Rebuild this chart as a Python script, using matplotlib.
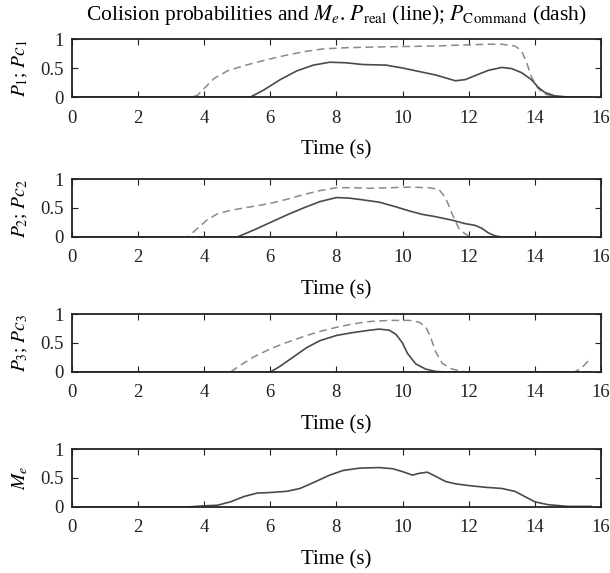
import matplotlib
matplotlib.use("Agg")
import matplotlib.pyplot as plt

t_p1 = [0, 5.4, 5.8, 6.3, 6.8, 7.3, 7.8, 8.3, 8.8, 9.5, 10.0, 10.5, 11.0, 11.3, 11.6, 11.9,
        12.2, 12.6, 13.0, 13.3, 13.6, 13.9, 14.1, 14.3, 14.6, 15.0, 15.7]
p1 = [0, 0, 0.12, 0.3, 0.45, 0.55, 0.6, 0.59, 0.56, 0.55, 0.5, 0.44, 0.38, 0.33, 0.28, 0.3,
      0.37, 0.46, 0.51, 0.49, 0.42, 0.3, 0.17, 0.08, 0.02, 0, 0]
t_pc1 = [0, 3.6, 3.8, 4.0, 4.3, 4.7, 5.2, 5.8, 6.4, 7.0, 7.6, 8.3, 9.0, 10.0, 11.0, 12.0,
         12.6, 13.0, 13.4, 13.6, 13.75, 13.9, 14.1, 14.3, 14.6, 15.0, 15.7]
pc1 = [0, 0, 0.03, 0.15, 0.32, 0.45, 0.54, 0.63, 0.71, 0.78, 0.83, 0.85, 0.86, 0.87, 0.88,
       0.9, 0.91, 0.91, 0.88, 0.8, 0.6, 0.35, 0.15, 0.05, 0.01, 0, 0]

t_p2 = [0, 5.0, 5.5, 6.0, 6.5, 7.0, 7.5, 8.0, 8.4, 8.8, 9.3, 9.8, 10.2, 10.6, 11.0, 11.5,
        11.9, 12.2, 12.4, 12.6, 12.8, 13.0, 15.7]
p2 = [0, 0, 0.12, 0.25, 0.38, 0.5, 0.61, 0.68, 0.67, 0.64, 0.6, 0.52, 0.45, 0.39, 0.35, 0.29,
      0.23, 0.2, 0.15, 0.07, 0.02, 0, 0]
t_pc2 = [0, 3.5, 3.8, 4.1, 4.4, 4.8, 5.4, 6.0, 6.5, 7.0, 7.5, 8.0, 8.5, 9.0, 9.6, 10.2,
         10.8, 11.1, 11.3, 11.5, 11.7, 11.9, 12.1, 15.7]
pc2 = [0, 0, 0.15, 0.3, 0.4, 0.46, 0.52, 0.58, 0.65, 0.73, 0.8, 0.85, 0.85, 0.84, 0.85, 0.86,
       0.85, 0.82, 0.68, 0.4, 0.15, 0.05, 0, 0]

t_p3 = [0, 6.0, 6.3, 6.7, 7.1, 7.5, 8.0, 8.5, 9.0, 9.3, 9.6, 9.8, 10.0, 10.15, 10.4, 10.7,
        11.0, 11.3, 15.7]
p3 = [0, 0, 0.1, 0.26, 0.42, 0.54, 0.63, 0.68, 0.72, 0.74, 0.72, 0.65, 0.5, 0.32, 0.14, 0.05,
      0.01, 0, 0]
t_pc3 = [0, 4.8, 5.1, 5.5, 6.0, 6.5, 7.0, 7.5, 8.0, 8.5, 9.0, 9.6, 10.2, 10.5, 10.7, 10.85,
         11.0, 11.2, 11.5, 11.9, 15.2, 15.4, 15.6, 15.7]
pc3 = [0, 0, 0.12, 0.26, 0.4, 0.51, 0.61, 0.7, 0.77, 0.83, 0.87, 0.89, 0.89, 0.86, 0.78,
       0.6, 0.35, 0.15, 0.05, 0, 0, 0.06, 0.18, 0.25]

t_me = [0, 3.5, 4.0, 4.4, 4.8, 5.2, 5.6, 6.0, 6.5, 6.9, 7.3, 7.8, 8.2, 8.7, 9.3, 9.7, 10.0,
        10.3, 10.5, 10.75, 11.0, 11.3, 11.6, 12.0, 12.5, 13.0, 13.4, 13.7, 14.0, 14.4, 15.0, 15.7]
me = [0, 0, 0.02, 0.03, 0.09, 0.18, 0.24, 0.25, 0.27, 0.32, 0.42, 0.55, 0.63, 0.67, 0.68,
      0.66, 0.61, 0.55, 0.58, 0.6, 0.53, 0.44, 0.4, 0.37, 0.34, 0.32, 0.27, 0.18, 0.09, 0.04,
      0.01, 0.01]

ylabels = [r"$P_1$; $Pc_1$", r"$P_2$; $Pc_2$", r"$P_3$; $Pc_3$", r"$M_e$"]
xticks = [0, 2, 4, 6, 8, 10, 12, 14, 16]
yticks = [0, 0.5, 1]
yticklabels = ["0", "0.5", "1"]

plt.rcParams["font.family"] = ["Liberation Serif", "DejaVu Serif"]
plt.rcParams["mathtext.fontset"] = "stix"

SOLID = "#4a4a4a"
DASH = "#8a8a8a"

fig = plt.figure(figsize=(6.1, 5.73), dpi=100)
bottoms = [0.8307, 0.5864, 0.3508, 0.1152]
axes = [fig.add_axes([0.118, b, 0.867, 0.1012]) for b in bottoms]

series = [(t_p1, p1, t_pc1, pc1), (t_p2, p2, t_pc2, pc2), (t_p3, p3, t_pc3, pc3)]
for ax, (ts, ys, td, yd) in zip(axes[:3], series):
    ax.plot(td, yd, color=DASH, linewidth=1.1, linestyle=(0, (5, 3)))
    ax.plot(ts, ys, color=SOLID, linewidth=1.2)
axes[3].plot(t_me, me, color=SOLID, linewidth=1.2)

for ax, lab in zip(axes, ylabels):
    ax.set_xlim(0, 16)
    ax.set_ylim(0, 1)
    ax.set_xticks(xticks)
    ax.set_yticks(yticks)
    ax.set_yticklabels(yticklabels)
    ax.tick_params(direction="in", top=True, right=True, length=4, width=0.8,
                   labelsize=13.5, colors="#222222")
    ax.tick_params(axis="x", pad=9)
    ax.tick_params(axis="y", pad=6)
    for s in ax.spines.values():
        s.set_linewidth(1.3)
        s.set_color("#222222")
    ax.set_xlabel("Time (s)", fontsize=15, labelpad=10)
    ax.set_ylabel(lab, fontsize=14, labelpad=7)

axes[0].set_title(r"Colision probabilities and $M_e$. $P_{\mathrm{real}}$ (line); "
                  r"$P_{\mathrm{Command}}$ (dash)", fontsize=15.5, pad=14)

fig.savefig("out.png", dpi=100)
